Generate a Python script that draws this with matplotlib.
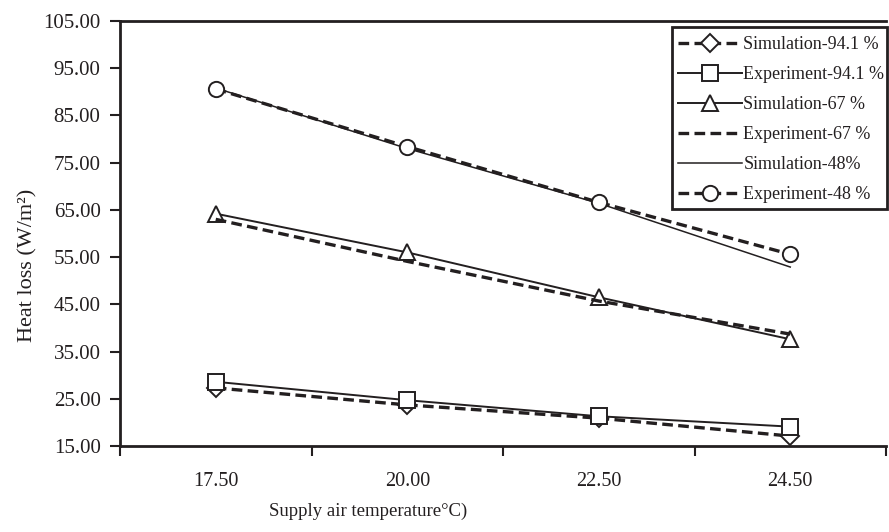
import numpy as np
import matplotlib
matplotlib.use('Agg')
import matplotlib.pyplot as plt
from matplotlib.patches import Rectangle

plt.rcParams['font.family'] = ['Liberation Serif', 'DejaVu Serif']

temps = ['17.50', '20.00', '22.50', '24.50']
sim_941 = [27.3, 23.7, 20.9, 17.1]
exp_941 = [28.6, 24.7, 21.3, 19.1]
sim_67 = [64.2, 56.0, 46.5, 37.6]
exp_67 = [63.0, 54.1, 45.7, 38.7]
sim_48 = [90.8, 78.0, 66.4, 52.9]
exp_48 = [90.6, 78.4, 66.6, 55.6]

ink = '#231f20'
x = np.arange(len(temps))

fig = plt.figure(figsize=(8.89, 5.32), dpi=100)
ax = fig.add_axes([120/889, 1-446/532, 766/889, 425/532])

dash = (0, (3.2, 1.6))
mk = dict(markerfacecolor='white', markeredgecolor=ink, markeredgewidth=1.4)

ax.plot(x, sim_941, color=ink, lw=2.4, ls=dash, marker='D', ms=9, label='Simulation-94.1 %', **mk)
ax.plot(x, exp_941, color=ink, lw=1.4, marker='s', ms=11, label='Experiment-94.1 %', **mk)
ax.plot(x, sim_67, color=ink, lw=1.4, marker='^', ms=12, label='Simulation-67 %', **mk)
ax.plot(x, exp_67, color=ink, lw=2.4, ls=dash, label='Experiment-67 %')
ax.plot(x, sim_48, color=ink, lw=1.1, label='Simulation-48%')
ax.plot(x, exp_48, color=ink, lw=2.4, ls=dash, marker='o', ms=11, label='Experiment-48 %', **mk)

ax.set_xlim(-0.5, 3.5)
ax.set_ylim(15, 105)
ax.set_yticks(np.arange(15, 106, 10))
ax.set_yticklabels(['%.2f' % v for v in np.arange(15, 106, 10)])
ax.set_xticks(x)
ax.set_xticklabels(temps)
ax.set_xticks(np.arange(-0.5, 3.6, 1), minor=True)
ax.tick_params(axis='x', which='major', length=0, pad=19, labelsize=14.5, colors=ink)
ax.tick_params(axis='x', which='minor', length=7, width=1.5, direction='out', color=ink)
ax.tick_params(axis='y', length=7, width=1.5, direction='out', pad=7, labelsize=15, colors=ink)

for s in ['left', 'bottom', 'top']:
    ax.spines[s].set_linewidth(2)
    ax.spines[s].set_color(ink)
ax.spines['right'].set_visible(False)

ax.set_xlabel('Supply air temperature°C)', fontsize=13.5, color=ink)
ax.set_ylabel('Heat loss (W/m²)', fontsize=16, color=ink)
ax.xaxis.set_label_coords(0.324, -0.134)
ax.yaxis.set_label_coords(-0.108, 0.426)

leg = ax.legend(loc='upper left', bbox_to_anchor=(672/889, 1-30/532), bbox_transform=fig.transFigure,
                fontsize=13, frameon=False, handlelength=3.5,
                handletextpad=0.1, labelspacing=0.72, borderpad=0.35, borderaxespad=0)
for t in leg.get_texts():
    t.set_color(ink)

# legend box, narrower than the text like the original
fig.patches.append(Rectangle((672/889, 1-209/532), 215/889, 182/532, transform=fig.transFigure,
                             fill=False, edgecolor=ink, lw=2, zorder=5))

fig.savefig('out.png', dpi=100)
